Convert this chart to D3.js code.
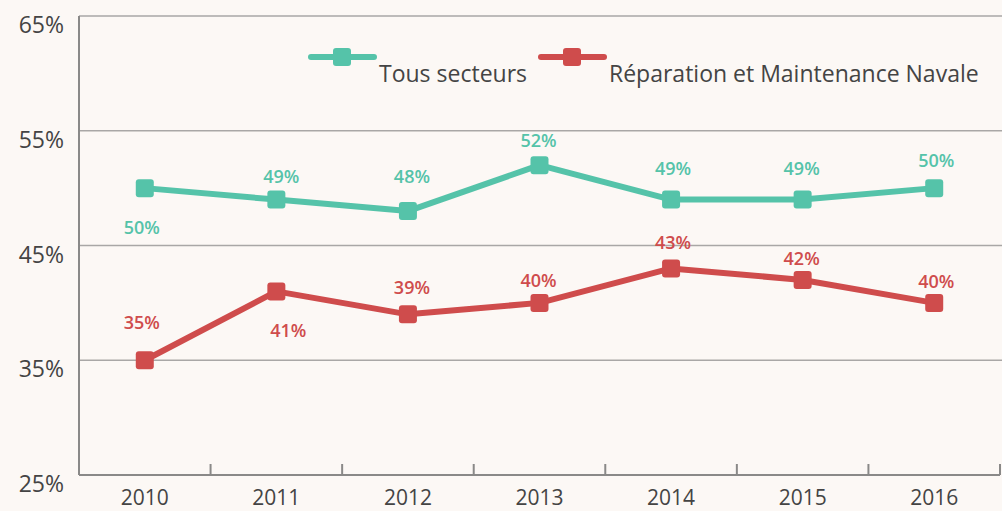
<!DOCTYPE html>
<html>
<head>
<meta charset="utf-8">
<script src="https://cdn.jsdelivr.net/npm/d3@7"></script>
<style>
  body { margin: 0; background: #fcf8f5; }
  svg { display: block; }
</style>
</head>
<body>
<svg width="1002" height="511"></svg>
<script>
// data
var years = ["2010", "2011", "2012", "2013", "2014", "2015", "2016"];
var tous = [50, 49, 48, 52, 49, 49, 50];
var navale = [35, 41, 39, 40, 43, 42, 40];
var yTicks = [25, 35, 45, 55, 65];
var seriesNames = ["Tous secteurs", "Réparation et Maintenance Navale"];

// label nudges (px) from each point, as placed in the original
var tousDx = [-3, 5, 4, -1, 2, -1, 2];
var tousDy = [40, -23, -34, -24, -31, -31, -27];
var navaleDx = [-3, 12, 4, -1, 2, -1, 2];
var navaleDy = [-38, 39, -27, -22, -26, -21, -21];

(function () {
const svg = d3.select("svg"),
  width = +svg.attr("width"),
  height = +svg.attr("height");

const font = "'Open Sans', sans-serif";
const teal = "#55c3a9", red = "#cf4c4c";
const mLeft = 79, mRight = 1000, mTop = 16, mBottom = 475;

svg.append("rect")
  .attr("width", width)
  .attr("height", height)
  .attr("fill", "#fcf8f5");

const x = d3.scaleBand().domain(years).range([mLeft, mRight]);
const y = d3.scaleLinear().domain([25, 65]).range([mBottom, mTop]);

// gridlines
svg.append("g")
  .selectAll("line")
  .data(yTicks.filter(d => d > 25))
  .enter().append("line")
    .attr("x1", mLeft)
    .attr("x2", width)
    .attr("y1", d => y(d))
    .attr("y2", d => y(d))
    .attr("stroke", "#a9a7a6")
    .attr("stroke-width", 1.5);

// y labels
svg.append("g")
  .selectAll("text")
  .data(yTicks)
  .enter().append("text")
    .attr("x", 64)
    .attr("y", d => y(d) + 17)
    .attr("text-anchor", "end")
    .attr("font-family", font)
    .attr("font-size", 23)
    .attr("fill", "#444")
    .text(d => d + "%");

// axes
svg.append("line")
  .attr("x1", mLeft).attr("x2", mLeft)
  .attr("y1", mTop).attr("y2", mBottom)
  .attr("stroke", "#8a8988").attr("stroke-width", 2);
svg.append("line")
  .attr("x1", mLeft).attr("x2", mRight)
  .attr("y1", mBottom).attr("y2", mBottom)
  .attr("stroke", "#8a8988").attr("stroke-width", 2);

const tickX = years.map(d => x(d)).concat([mRight]);
svg.append("g")
  .selectAll("line")
  .data(tickX)
  .enter().append("line")
    .attr("x1", d => d).attr("x2", d => d)
    .attr("y1", mBottom - 11).attr("y2", mBottom)
    .attr("stroke", "#8a8988").attr("stroke-width", 2);

svg.append("g")
  .selectAll("text")
  .data(years)
  .enter().append("text")
    .attr("x", d => x(d) + x.bandwidth() / 2)
    .attr("y", 505)
    .attr("text-anchor", "middle")
    .attr("font-family", font)
    .attr("font-size", 21)
    .attr("fill", "#444")
    .text(d => d);

function drawSeries(vals, dxs, dys, color) {
  const pts = vals.map((v, i) => ({ year: years[i], v: v, dx: dxs[i], dy: dys[i] }));
  const cx = d => x(d.year) + x.bandwidth() / 2;

  svg.append("path")
    .datum(pts)
    .attr("fill", "none")
    .attr("stroke", color)
    .attr("stroke-width", 6)
    .attr("stroke-linejoin", "round")
    .attr("d", d3.line().x(cx).y(d => y(d.v)));

  svg.append("g")
    .selectAll("rect")
    .data(pts)
    .enter().append("rect")
      .attr("x", d => cx(d) - 9)
      .attr("y", d => y(d.v) - 9)
      .attr("width", 18)
      .attr("height", 18)
      .attr("rx", 3)
      .attr("fill", color);

  svg.append("g")
    .selectAll("text")
    .data(pts)
    .enter().append("text")
      .attr("x", d => cx(d) + d.dx)
      .attr("y", d => y(d.v) + d.dy)
      .attr("dy", "0.35em")
      .attr("text-anchor", "middle")
      .attr("font-family", font)
      .attr("font-weight", 600)
      .attr("font-size", 18)
      .attr("fill", color)
      .text(d => d.v + "%");
}

drawSeries(tous, tousDx, tousDy, teal);
drawSeries(navale, navaleDx, navaleDy, red);

// legend
const legX = [311, 541];
const legColors = [teal, red];
const leg = svg.append("g")
  .selectAll("g")
  .data(seriesNames)
  .enter().append("g")
    .attr("transform", (d, i) => "translate(" + legX[i] + ",57)");
leg.append("line")
  .attr("x1", 0).attr("x2", 63)
  .attr("stroke", (d, i) => legColors[i])
  .attr("stroke-width", 6)
  .attr("stroke-linecap", "round");
leg.append("rect")
  .attr("x", 22).attr("y", -9)
  .attr("width", 18).attr("height", 18)
  .attr("rx", 3)
  .attr("fill", (d, i) => legColors[i]);
leg.append("text")
  .attr("x", 68)
  .attr("y", 25)
  .attr("font-family", font)
  .attr("font-size", 23)
  .attr("fill", "#444")
  .text(d => d);
})();
</script>
</body>
</html>
